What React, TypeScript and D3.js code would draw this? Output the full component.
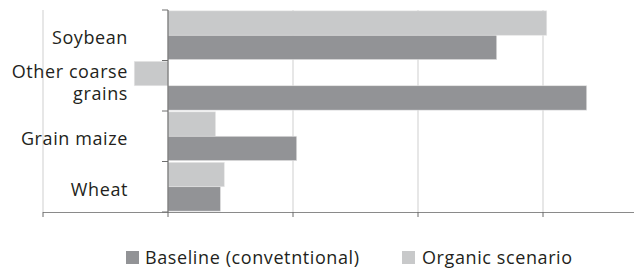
import React from "react";
import * as d3 from "d3";

const categories = ["Soybean", "Other coarse grains", "Grain maize", "Wheat"];
const categoryLines = [["Soybean"], ["Other coarse", "grains"], ["Grain maize"], ["Wheat"]];
const seriesNames = ["Organic scenario", "Baseline (convetntional)"];
const organic = [3.03, -0.27, 0.38, 0.45];
const baseline = [2.63, 3.35, 1.03, 0.42];
const xTicks = [-1, 0, 1, 2, 3, 4];

const W = 634;
const H = 269;
const FONT = "'Open Sans', 'Noto Sans', sans-serif";
const DARK = "#929396";
const LIGHT = "#c8c9ca";

export default function App() {
  const x = d3.scaleLinear().domain([-1, 4]).range([43, 668]);
  const y = d3.scaleBand<string>().domain(categories).range([10, 212]).paddingInner(0).paddingOuter(0);
  const sub = d3
    .scaleBand<string>()
    .domain(seriesNames)
    .range([0, y.bandwidth()])
    .paddingOuter(0.035)
    .paddingInner(0);
  const values: Record<string, number[]> = {
    "Organic scenario": organic,
    "Baseline (convetntional)": baseline,
  };
  const colors: Record<string, string> = {
    "Organic scenario": LIGHT,
    "Baseline (convetntional)": DARK,
  };
  const x0 = x(0);
  const [yTop, yBot] = y.range();

  return (
    <svg
      width={W}
      height={H}
      style={{ position: "absolute", left: 0, top: 0, display: "block", background: "#fff" }}
      fontFamily={FONT}
    >
      {/* gridlines */}
      {xTicks
        .filter((t) => t !== 0)
        .map((t) => (
          <line key={"g" + t} x1={x(t)} x2={x(t)} y1={yTop} y2={yBot} stroke="#cfcfcf" strokeWidth={1} />
        ))}
      {/* bars */}
      {categories.map((c, i) =>
        seriesNames.map((s) => {
          const v = values[s][i];
          const yy = (y(c) ?? 0) + (sub(s) ?? 0);
          return (
            <rect
              key={c + s}
              x={Math.min(x(v), x0)}
              y={yy}
              width={Math.abs(x(v) - x0)}
              height={sub.bandwidth()}
              fill={colors[s]}
              stroke="#e6e6e6"
              strokeWidth={0.6}
            />
          );
        })
      )}
      {/* x axis */}
      <line x1={x(-1)} x2={W} y1={yBot + 0.5} y2={yBot + 0.5} stroke="#8a8a8a" strokeWidth={1.2} />
      {xTicks.map((t) => (
        <line key={"t" + t} x1={x(t)} x2={x(t)} y1={yBot} y2={yBot + 5} stroke="#6a6a6a" strokeWidth={1} />
      ))}
      {/* category axis at zero */}
      <line x1={x0} x2={x0} y1={yTop} y2={yBot} stroke="#6e6e6e" strokeWidth={1.2} />
      {[...categories.map((c) => y(c) ?? 0), yBot].map((v, i) => (
        <line key={"ct" + i} x1={x0 - 6} x2={x0} y1={v} y2={v} stroke="#6e6e6e" strokeWidth={1} />
      ))}
      {/* category labels */}
      {categories.map((c, i) => {
        const lines = categoryLines[i];
        const mid = (y(c) ?? 0) + y.bandwidth() / 2;
        const first = lines.length === 1 ? mid + 9 : mid - 7.5;
        return (
          <text key={"l" + c} textAnchor="end" fontSize={18} letterSpacing={0.6} fill="#231f20">
            {lines.map((ln, j) => (
              <tspan key={j} x={128} y={first + j * 22}>
                {ln}
              </tspan>
            ))}
          </text>
        );
      })}
      {/* legend */}
      <g fontSize={18} letterSpacing={0.6} fill="#231f20">
        <rect x={126} y={251} width={13} height={13} fill={DARK} />
        <text x={145} y={263.5}>Baseline (convetntional)</text>
        <rect x={402} y={251} width={13} height={13} fill={LIGHT} />
        <text x={422} y={263.5}>Organic scenario</text>
      </g>
    </svg>
  );
}
